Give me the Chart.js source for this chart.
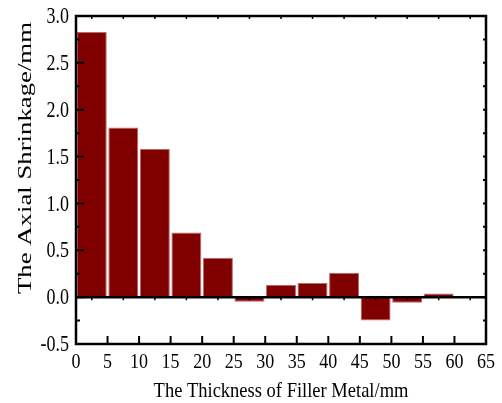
<!DOCTYPE html>
<html>
<head>
<meta charset="utf-8">
<script src="https://cdn.jsdelivr.net/npm/chart.js@4/dist/chart.umd.min.js"></script>
<style>
  html, body { margin: 0; padding: 0; background: #fff; }
  #wrap { width: 502px; height: 403px; position: relative; }
</style>
</head>
<body>
<div id="wrap"><canvas id="shrinkChart"></canvas></div>
<script>
// bar centres (mm) and axial shrinkage (mm)
const thickness = [2.5, 7.5, 12.5, 17.5, 22.5, 27.5, 32.5, 37.5, 42.5, 47.5, 52.5, 57.5];
const shrinkage = [2.83, 1.81, 1.58, 0.69, 0.42, -0.05, 0.13, 0.15, 0.26, -0.25, -0.06, 0.04];
const xTicks = [0, 5, 10, 15, 20, 25, 30, 35, 40, 45, 50, 55, 60, 65];
const yTicks = [-0.5, 0.0, 0.5, 1.0, 1.5, 2.0, 2.5, 3.0];
const xTitle = 'The Thickness of Filler Metal/mm';
const yTitle = 'The Axial Shrinkage/mm';

const serif = "'Liberation Serif', 'Times New Roman', serif";

// draw text squeezed/stretched like the original figure
function stretchedText(ctx, text, x, y, sx, sy) {
    ctx.save();
    ctx.translate(x, y);
    ctx.scale(sx, sy);
    ctx.fillText(text, 0, 0);
    ctx.restore();
}

// frame, Origin-like ticks, zero line and labels
const framePlugin = {
    id: 'frame',
    afterDatasetsDraw(chart) {
        const { ctx, chartArea: a, scales: { x, y } } = chart;
        ctx.save();
        ctx.strokeStyle = '#000';
        ctx.lineWidth = 2.5;
        const y0 = y.getPixelForValue(0);
        ctx.beginPath();
        ctx.moveTo(a.left, y0);
        ctx.lineTo(a.right, y0);
        ctx.stroke();
        ctx.strokeRect(a.left, a.top, a.right - a.left, a.bottom - a.top);

        // bottom major ticks
        ctx.lineWidth = 2;
        xTicks.forEach(v => {
            const px = x.getPixelForValue(v);
            ctx.beginPath();
            ctx.moveTo(px, a.bottom); ctx.lineTo(px, a.bottom - 8);
            ctx.stroke();
        });
        // small ticks at bar centres on top edge and zero line
        ctx.lineWidth = 1.5;
        for (let v = 2.5; v < 65; v += 5) {
            const px = x.getPixelForValue(v);
            ctx.beginPath();
            ctx.moveTo(px, a.top); ctx.lineTo(px, a.top + 3);
            ctx.moveTo(px, y0); ctx.lineTo(px, y0 + 3);
            ctx.stroke();
        }
        // left ticks (major + minor), right ticks small
        ctx.lineWidth = 2;
        for (let v = -0.5; v <= 3.0001; v += 0.25) {
            const py = y.getPixelForValue(v);
            const major = Math.abs(v * 2 - Math.round(v * 2)) < 1e-6;
            ctx.beginPath();
            ctx.moveTo(a.left, py); ctx.lineTo(a.left + (major ? 8 : 4), py);
            ctx.moveTo(a.right, py); ctx.lineTo(a.right - 3, py);
            ctx.stroke();
        }

        // tick labels
        ctx.fillStyle = '#000';
        ctx.font = '18px ' + serif;
        ctx.textBaseline = 'middle';
        ctx.textAlign = 'right';
        yTicks.forEach(v => {
            stretchedText(ctx, v.toFixed(1), 69, y.getPixelForValue(v) + 1, 1, 1.3);
        });
        ctx.textAlign = 'center';
        xTicks.forEach(v => {
            stretchedText(ctx, String(v), x.getPixelForValue(v), a.bottom + 18, 1, 1.2);
        });

        // axis titles
        ctx.font = '18.5px ' + serif;
        ctx.textBaseline = 'alphabetic';
        stretchedText(ctx, xTitle, 281, 397, 1, 1.15);

        ctx.font = '18px ' + serif;
        const w = ctx.measureText(yTitle).width;
        ctx.save();
        ctx.translate(31, 158);
        ctx.rotate(-Math.PI / 2);
        ctx.scale(272 / w, 1);
        ctx.fillText(yTitle, 0, 0);
        ctx.restore();

        ctx.restore();
    }
};

new Chart(document.getElementById('shrinkChart'), {
    type: 'bar',
    data: {
        datasets: [{
            data: thickness.map((t, i) => ({ x: t, y: shrinkage[i] })),
            backgroundColor: '#800000',
            borderColor: '#b86a6a',
            borderWidth: 1,
            categoryPercentage: 1.0,
            barPercentage: 0.95
        }]
    },
    options: {
        responsive: true,
        maintainAspectRatio: false,
        animation: false,
        layout: { padding: { left: 0, right: 16, top: 16, bottom: 0 } },
        plugins: {
            legend: { display: false },
            tooltip: { enabled: false }
        },
        scales: {
            x: {
                type: 'linear',
                offset: false,
                min: 0,
                max: 65,
                afterBuildTicks: s => { s.ticks = xTicks.map(v => ({ value: v })); },
                afterFit: s => { s.height = 59; },
                grid: { display: false, drawTicks: false },
                border: { display: false },
                ticks: { display: false }
            },
            y: {
                min: -0.5,
                max: 3.0,
                afterBuildTicks: s => { s.ticks = yTicks.map(v => ({ value: v })); },
                afterFit: s => { s.width = 76; },
                grid: { display: false, drawTicks: false },
                border: { display: false },
                ticks: { display: false }
            }
        }
    },
    plugins: [framePlugin]
});
</script>
</body>
</html>
